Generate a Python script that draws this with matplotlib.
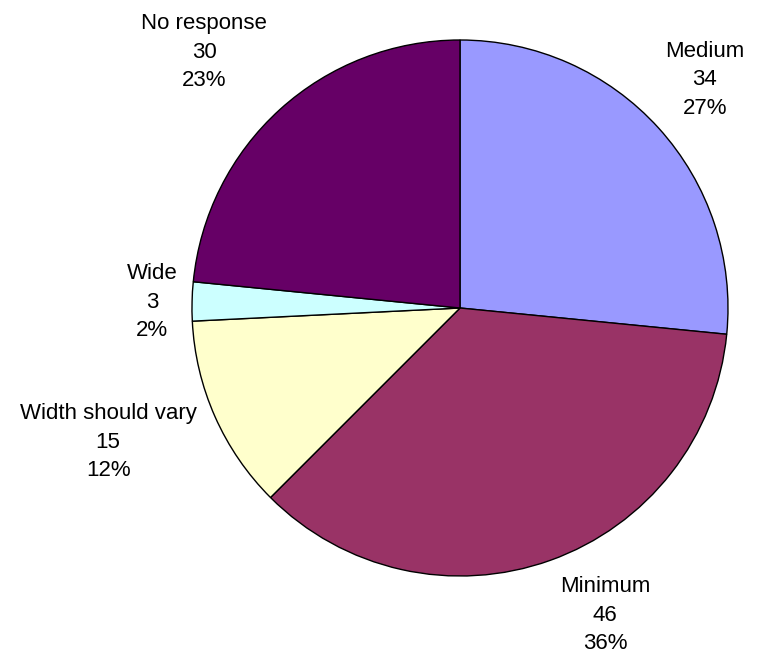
import matplotlib
matplotlib.use("Agg")
import matplotlib.pyplot as plt

categories = ["Medium", "Minimum", "Width should vary", "Wide", "No response"]
values = [34, 46, 15, 3, 30]
colors = ["#9999FF", "#993366", "#FFFFCC", "#CCFFFF", "#660066"]

# label centre positions (layout, in pie-radius units)
label_pos = [(0.914, 0.851), (0.541, -1.146), (-1.313, -0.500), (-1.149, 0.022), (-0.955, 0.955)]

plt.rcParams['font.family'] = ['Liberation Sans', 'DejaVu Sans']

fig = plt.figure(figsize=(7.67, 6.58), dpi=100)
ax = fig.add_axes([0, 0, 1, 1])
total = sum(values)
ax.pie(values, colors=colors, startangle=90, counterclock=False, radius=1.0,
       wedgeprops=dict(edgecolor="black", linewidth=1.0))
for cat, v, (x, y) in zip(categories, values, label_pos):
    pct = round(100 * v / total)
    ax.text(x, y, f"{cat}\n{v}\n{pct}%", ha="center", va="center",
            fontsize=16, linespacing=1.45)
ax.set_xlim(-460 / 268, (767 - 460) / 268)
ax.set_ylim(-(658 - 308) / 268, 308 / 268)
ax.set_aspect('equal', adjustable='box')
ax.axis('off')
fig.savefig("out.png", dpi=100)
